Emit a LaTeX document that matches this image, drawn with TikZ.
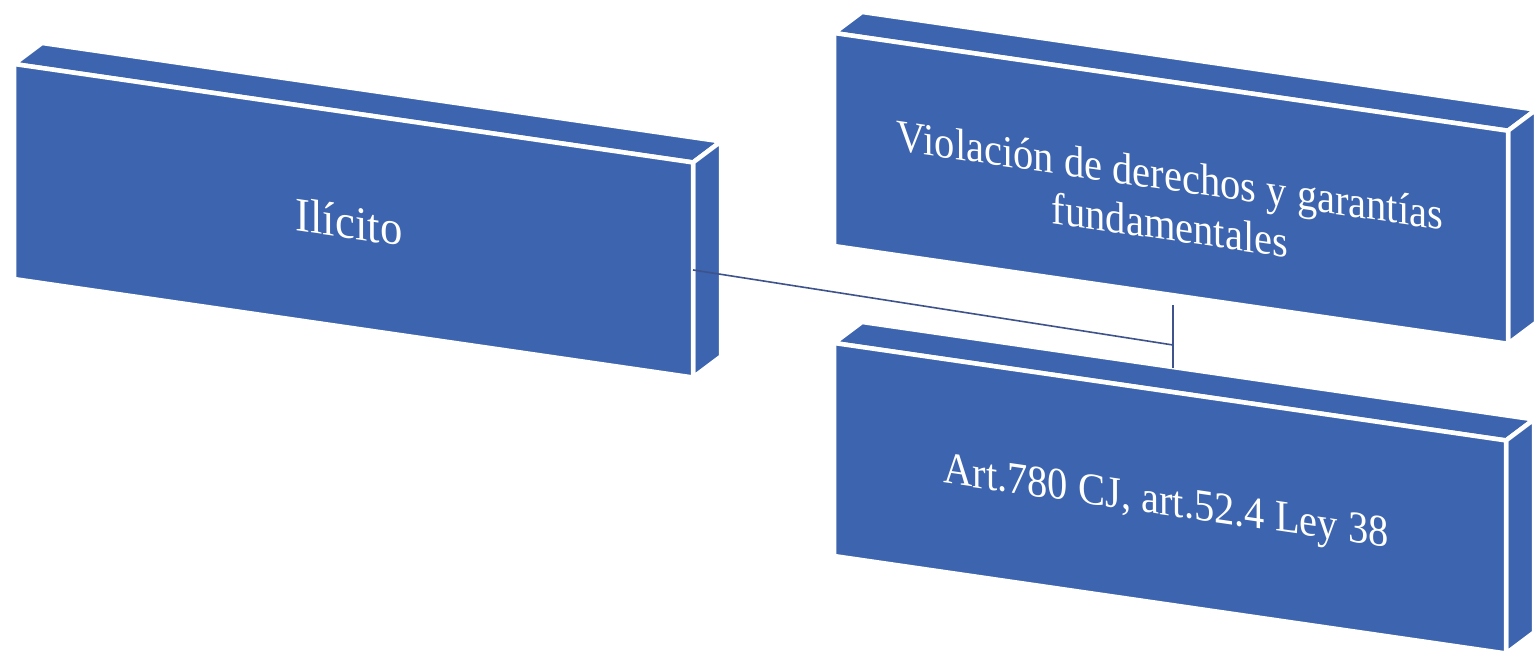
\documentclass[tikz,border=0pt]{standalone}
\usepackage{fontspec}
\setmainfont{Liberation Serif}
\usetikzlibrary{calc}
\definecolor{boxblue}{RGB}{61,100,174}
\definecolor{linkcol}{RGB}{62,82,140}
\tikzset{
  face/.style={fill=boxblue, draw=white, line width=4.5pt, line join=miter},
  boxtext/.style={text=white, yslant=-0.145, align=center, inner sep=0pt},
  link/.style={draw=linkcol, line width=1.6pt}
}
% #1 name, #2 x, #3 y (front top-left), #4 width, #5 front height
\newcommand\slabbox[5]{%
  \path (#2,#3) coordinate (#1-tl) ++(#4,0.145*#4) coordinate (#1-tr)
        ++(0,#5) coordinate (#1-br) ++(-#4,-0.145*#4) coordinate (#1-bl);
  \path[face] (#1-tl) -- (#1-tr) -- ++(28,-21) -- ([shift={(28,-21)}]#1-tl) -- cycle;
  \path[face] (#1-tr) -- ++(28,-21) -- ++(0,#5) -- (#1-br) -- cycle;
  \path[face] (#1-tl) -- (#1-tr) -- (#1-br) -- (#1-bl) -- cycle;
  \coordinate (#1-e) at ($(#1-tr)!0.5!(#1-br)$);
}
\begin{document}
\begin{tikzpicture}[x=1pt,y=-1pt]
  \useasboundingbox (0,0) rectangle (1537,658);
  \slabbox{ilibox}{14}{64}{679}{215}
  \slabbox{violbox}{834}{33}{674}{213}
  \slabbox{artbox}{834}{343}{672}{213}
  \node[boxtext, xscale=0.93, font=\fontsize{48}{56}\selectfont] (ili) at (349,222) {Ilícito};
  \node[boxtext, xscale=0.9, font=\fontsize{45}{50}\selectfont] (viol) at (1170,200)
       {Violación de derechos y garantías\\fundamentales};
  \node[boxtext, xscale=0.9, font=\fontsize{45}{50}\selectfont] (art) at (1166,505)
       {Art.780 CJ, art.52.4 Ley 38};
  \coordinate (junc) at (1173,345);
  \coordinate (viol-s) at (1173,305);
  \coordinate (art-n) at (1173,368);
  \draw[link] (ilibox-e) -- (junc);
  \draw[link] (viol-s) -- (art-n);
\end{tikzpicture}
\end{document}
